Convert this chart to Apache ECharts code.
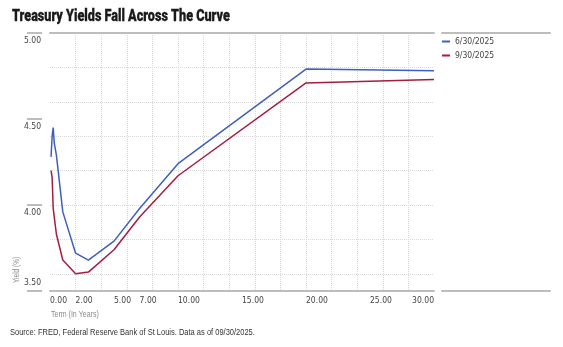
<!DOCTYPE html>
<html>
<head>
<meta charset="utf-8">
<script src="https://cdn.jsdelivr.net/npm/echarts@6/dist/echarts.min.js"></script>
<style>html,body{margin:0;padding:0;background:#fff}#c{width:563px;height:347px}</style>
</head>
<body>
<div id="c"></div>
<script>
// Term in years: 1m, 2m, 3m, 4m, 6m, 1y, 2y, 3y, 5y, 7y, 10y, 20y, 30y
var terms = [1/12, 2/12, 3/12, 4/12, 6/12, 1, 2, 3, 5, 7, 10, 20, 30];
var yieldsJun = [4.28, 4.40, 4.45, 4.36, 4.29, 3.96, 3.72, 3.68, 3.79, 3.98, 4.24, 4.79, 4.78];
var yieldsSep = [4.20, 4.16, 3.98, 3.93, 3.83, 3.68, 3.60, 3.61, 3.74, 3.93, 4.17, 4.71, 4.73];
var seriesNames = ['6/30/2025', '9/30/2025'];
var xTickLabels = [0, 2, 5, 7, 10, 15, 20, 25, 30];

var FONT = "'DejaVu Sans Condensed', sans-serif";
var TFONT = "'Liberation Sans', Arial, sans-serif";
function pairs(xs, ys) { return xs.map(function (x, i) { return [x, ys[i]]; }); }

var chart = echarts.init(document.getElementById('c'), null, { renderer: 'canvas' });
chart.setOption({
  animation: false,
  backgroundColor: '#fff',
  textStyle: { fontFamily: FONT },
  graphic: [
    { type: 'text', x: 12, y: 17, scaleX: 0.79,
      style: { text: 'Treasury Yields Fall Across The Curve', fontFamily: 'Roboto', fontWeight: 900, fontSize: 16,
        fill: '#1a1a1a', stroke: '#1a1a1a', lineWidth: 0.3, textAlign: 'left', textVerticalAlign: 'middle' } },
    { type: 'text', x: 51, y: 315, scaleX: 0.78,
      style: { text: 'Term (In Years)', fontFamily: TFONT, fontSize: 9, fill: '#8a8a8a', textAlign: 'left', textVerticalAlign: 'middle' } },
    { type: 'text', x: 10, y: 332, scaleX: 0.79,
      style: { text: 'Source: FRED, Federal Reserve Bank of St Louis. Data as of 09/30/2025.', fontFamily: TFONT, fontSize: 9.5,
        fill: '#333', textAlign: 'left', textVerticalAlign: 'middle' } },
    { type: 'text', x: 17, y: 283, rotation: Math.PI / 2, scaleX: 0.72,
      style: { text: 'Yield (%)', fontFamily: TFONT, fontSize: 9, fill: '#8a8a8a', textAlign: 'left', textVerticalAlign: 'middle' } }
  ],
  legend: {
    data: seriesNames, orient: 'vertical', left: 442, top: 37, padding: 0,
    itemWidth: 8, itemHeight: 2, itemGap: 5, icon: 'rect',
    textStyle: { fontFamily: FONT, fontSize: 8.5, color: '#444' }
  },
  grid: [
    { left: 50, right: 129, top: 33, bottom: 56 },
    { left: 50, right: 129, top: 33, height: 275.2 },
    { left: 442, right: 13, top: 33, bottom: 56 },
    { left: 27, width: 15, top: 33, bottom: 56 }
  ],
  xAxis: [
    { gridIndex: 0, type: 'value', min: 0, max: 30, interval: 2, position: 'bottom',
      axisLine: { show: true, lineStyle: { color: '#bdbdbd', width: 2 } },
      axisTick: { show: false },
      splitLine: { show: true, showMinLine: false, showMaxLine: false, lineStyle: { type: 'dotted', color: '#d9d9d9', width: 1 } },
      axisLabel: { customValues: xTickLabels, align: 'left', alignMaxLabel: 'right', margin: 5,
        fontFamily: FONT, fontSize: 8.5, color: '#444', formatter: function (v) { return v.toFixed(2); } } },
    { gridIndex: 0, type: 'value', min: 0, max: 30, position: 'top',
      axisLine: { show: true, lineStyle: { color: '#bdbdbd', width: 2 } },
      axisTick: { show: false }, axisLabel: { show: false }, splitLine: { show: false } },
    { gridIndex: 1, type: 'value', min: 0, max: 30, show: false },
    { gridIndex: 2, type: 'value', min: 0, max: 1, position: 'bottom',
      axisLine: { show: true, lineStyle: { color: '#bdbdbd', width: 2 } },
      axisTick: { show: false }, axisLabel: { show: false }, splitLine: { show: false } },
    { gridIndex: 2, type: 'value', min: 0, max: 1, position: 'top',
      axisLine: { show: true, lineStyle: { color: '#bdbdbd', width: 2 } },
      axisTick: { show: false }, axisLabel: { show: false }, splitLine: { show: false } },
    { gridIndex: 3, type: 'value', min: 0, max: 1, show: false }
  ],
  yAxis: [
    { gridIndex: 0, type: 'value', min: 3.5, max: 5.0, interval: 0.5,
      axisLine: { show: false }, axisTick: { show: false }, axisLabel: { show: false }, splitLine: { show: false } },
    { gridIndex: 1, type: 'value', min: 3.4, max: 5.0, interval: 0.2,
      axisLine: { show: false }, axisTick: { show: false }, axisLabel: { show: false },
      splitLine: { show: true, showMinLine: false, showMaxLine: false, lineStyle: { type: 'dotted', color: '#d9d9d9', width: 1 } } },
    { gridIndex: 2, type: 'value', min: 0, max: 1, show: false },
    { gridIndex: 3, type: 'value', min: 3.5, max: 5.0, interval: 0.5, position: 'right',
      axisLine: { show: false }, axisTick: { show: false },
      splitLine: { show: true, lineStyle: { color: '#bdbdbd', width: 2 } },
      axisLabel: { inside: true, margin: 1, fontFamily: FONT, fontSize: 8.5, color: '#444', lineHeight: 16,
        formatter: function (v) { return v === 3.5 ? v.toFixed(2) + '\n ' : ' \n' + v.toFixed(2); } } }
  ],
  series: [
    { name: seriesNames[0], type: 'line', xAxisIndex: 0, yAxisIndex: 0, data: pairs(terms, yieldsJun),
      showSymbol: false, symbol: 'none', lineStyle: { color: '#3f5fbf', width: 1.5 }, itemStyle: { color: '#3f5fbf' }, z: 5 },
    { name: seriesNames[1], type: 'line', xAxisIndex: 0, yAxisIndex: 0, data: pairs(terms, yieldsSep),
      showSymbol: false, symbol: 'none', lineStyle: { color: '#a41d41', width: 1.5 }, itemStyle: { color: '#a41d41' }, z: 5 }
  ]
});
</script>
</body>
</html>
